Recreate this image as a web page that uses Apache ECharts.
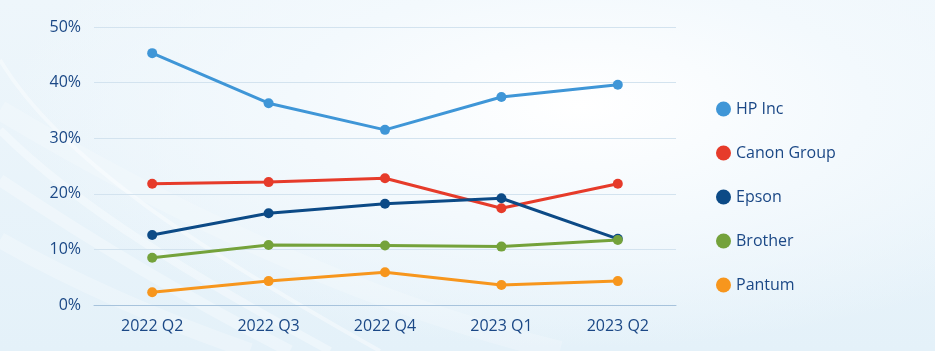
<!DOCTYPE html>
<html>
<head>
<meta charset="utf-8">
<style>
  html, body { margin: 0; padding: 0; }
  #chart {
    width: 935px; height: 351px;
    background:
      radial-gradient(ellipse at 62% 30%, #ffffff 0%, #f3f9fd 35%, rgba(230,242,250,0) 70%),
      linear-gradient(180deg, #eef6fb 0%, #e4f1f9 100%);
  }
</style>
<script src="https://cdn.jsdelivr.net/npm/echarts@6/dist/echarts.min.js"></script>
</head>
<body>
<div id="chart"></div>
<script>
// quarters on the x axis
var quarters = ['2022 Q2', '2022 Q3', '2022 Q4', '2023 Q1', '2023 Q2'];
// market share in %
var hpInc = [45.3, 36.3, 31.5, 37.4, 39.6];
var canonGroup = [21.8, 22.1, 22.8, 17.4, 21.8];
var epson = [12.6, 16.5, 18.2, 19.2, 11.9];
var brother = [8.5, 10.8, 10.7, 10.5, 11.7];
var pantum = [2.3, 4.3, 5.9, 3.6, 4.3];

var names = ['HP Inc', 'Canon Group', 'Epson', 'Brother', 'Pantum'];
var colors = ['#3f96d7', '#e63b2a', '#0c4a86', '#74a23b', '#f7961d'];
var values = [hpInc, canonGroup, epson, brother, pantum];

var textColor = '#1b4886';
var font = '"Open Sans", Lato, sans-serif';

var chart = echarts.init(document.getElementById('chart'));

// soft white swooshes in the background, bottom left: [x1, y1, cpx1, cpy1, cpx2, cpy2, x2, y2]
var swooshes = [
  [0, 60, 60, 160, 200, 250, 380, 351],
  [0, 130, 80, 210, 200, 280, 330, 351],
  [0, 180, 90, 240, 190, 300, 290, 351],
  [0, 240, 70, 280, 160, 320, 250, 351],
  [0, 110, 150, 200, 350, 300, 560, 351]
];

var option = {
  animation: false,
  textStyle: { fontFamily: font },
  graphic: swooshes.map(function (s, i) {
    return {
      type: 'bezierCurve',
      silent: true,
      z: -10,
      shape: { x1: s[0], y1: s[1], cpx1: s[2], cpy1: s[3], cpx2: s[4], cpy2: s[5], x2: s[6], y2: s[7] },
      style: { fill: null, stroke: 'rgba(255,255,255,' + (0.4 - i * 0.05) + ')', lineWidth: 4 + i * 4 }
    };
  }),
  grid: { left: 94, right: 259, top: 27, bottom: 46 },
  legend: {
    orient: 'vertical',
    left: 711,
    top: 96,
    itemGap: 28,
    itemWidth: 15,
    itemHeight: 15,
    icon: 'circle',
    textStyle: { color: textColor, fontSize: 16, fontFamily: font },
    data: names
  },
  xAxis: {
    type: 'category',
    data: quarters,
    axisLine: { show: true, lineStyle: { color: '#a7c3dc', width: 1 } },
    axisTick: { show: false },
    axisLabel: { color: textColor, fontSize: 16, margin: 13, fontFamily: font }
  },
  yAxis: {
    type: 'value',
    min: 0,
    max: 50,
    interval: 10,
    axisLine: { show: false },
    axisTick: { show: false },
    axisLabel: { color: textColor, fontSize: 16, margin: 13, formatter: '{value}%', fontFamily: font },
    splitLine: { lineStyle: { color: '#d3e3ef', width: 1 } }
  },
  series: names.map(function (n, i) {
    return {
      name: n,
      type: 'line',
      data: values[i],
      symbol: 'circle',
      symbolSize: 10,
      color: colors[i],
      lineStyle: { width: 3, color: colors[i] },
      itemStyle: { color: colors[i] }
    };
  })
};

chart.setOption(option);
</script>
</body>
</html>
